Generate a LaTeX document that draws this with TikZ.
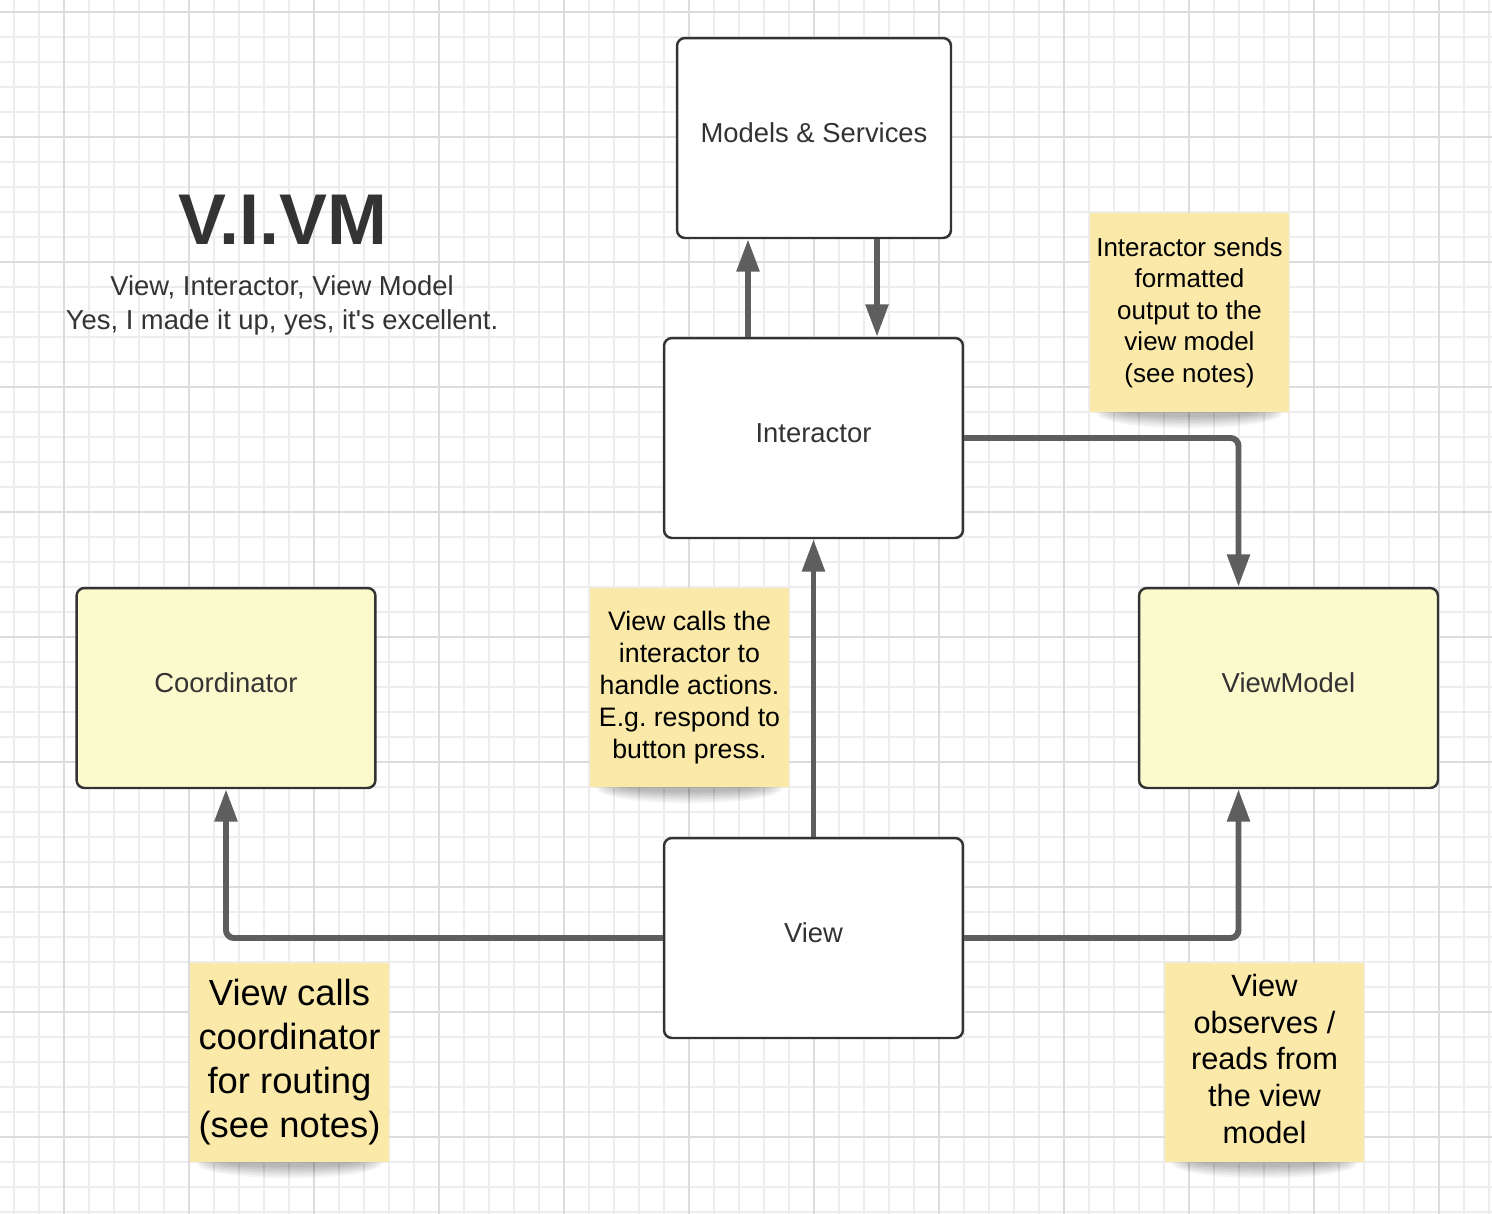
\documentclass[tikz,border=0pt]{standalone}
\usepackage{fontspec}
\setmainfont{Liberation Sans}[Ligatures=TeXOff]
\frenchspacing
\usetikzlibrary{arrows.meta,calc,backgrounds}

\definecolor{gridminor}{HTML}{EDEDED}
\definecolor{gridmajor}{HTML}{DCDCDC}
\definecolor{boxline}{HTML}{333333}
\definecolor{boxtext}{HTML}{333333}
\definecolor{paleyellow}{HTML}{FBFACD}
\definecolor{sticky}{HTML}{FBE9A9}
\definecolor{arrowgray}{HTML}{5E5E5E}

\begin{document}
\begin{tikzpicture}[
  x = 0.02cm, y = -0.02cm,
  minor/.style = {draw = gridminor, line width = 0.6pt},
  major/.style = {draw = gridmajor, line width = 0.6pt},
  block/.style = {draw = boxline, line width = 1.4pt, rounded corners = 4.5pt,
                  fill = white, text = boxtext, minimum width = 5.98cm,
                  minimum height = 4cm, text depth = 0.2cm,
                  font = \fontsize{15.6}{19}\selectfont},
  note/.style = {fill = sticky, text = black, align = center,
                 minimum width = 3.98cm, minimum height = 3.98cm, inner sep = 0pt},
  arr/.style = {draw = arrowgray, line width = 3.4pt, rounded corners = 4.5pt,
                -{Triangle[length = 18.5pt, width = 12.5pt]}},
  ]
  \useasboundingbox (0,0) rectangle (1492,1214);

  % boxes
  \node[block, minimum width = 5.48cm] (ms) at (814,138) {Models \& Services};
  \node[block] (inter) at (813.5,438) {Interactor};
  \node[block, fill = paleyellow] (coord) at (226,688) {Coordinator};
  \node[block, fill = paleyellow] (vm) at (1288.5,688) {ViewModel};
  \node[block] (view) at (813.5,938) {View};

  % sticky notes
  \node[note, font = \fontsize{14.8}{17.9}\selectfont] (n1) at (1189.5,312.5)
    {Interactor sends\\formatted\\output to the\\view model\\(see notes)};
  \node[note, font = \fontsize{15.2}{18.2}\selectfont] (n2) at (689.5,687.5)
    {View calls the\\interactor to\\handle actions.\\E.g. respond to\\button press.};
  \node[note, font = \fontsize{20.7}{25}\selectfont] (n3) at (289.5,1062.5)
    {\raisebox{2pt}{\begin{tabular}{@{}c@{}}View calls\\coordinator\\for routing\\(see notes)\end{tabular}}};
  \node[note, font = \fontsize{17.5}{20.9}\selectfont] (n4) at (1264.5,1062.5)
    {\raisebox{1.5pt}{\begin{tabular}{@{}c@{}}View\\observes /\\reads from\\the view\\model\end{tabular}}};

  % title
  \node[text = boxtext, font = \fontsize{40.9}{42}\selectfont\bfseries] (title) at (283,220) {V.I.VM};
  \node[text = boxtext, align = center, font = \fontsize{15.6}{19.4}\selectfont] (sub) at (282,305)
    {View, Interactor, View Model\\Yes, I made it up, yes, it's excellent.};

  % connectors
  \draw[arr] ($(inter.north)+(-65.5,0)$) -- ($(ms.south)+(-66,0)$);
  \draw[arr] ($(ms.south)+(63,0)$) -- ($(inter.north)+(63.5,0)$);
  \draw[arr] (inter.east) -| ($(vm.north)+(-50,0)$);
  \draw[arr] (view.north) -- (inter.south);
  \draw[arr] (view.west) -| (coord.south);
  \draw[arr] (view.east) -| ($(vm.south)+(-50,0)$);

  % grid and note shadows
  \begin{scope}[on background layer]
    \foreach \x in {14,39,...,1489} \draw[minor] (\x,0) -- (\x,1214);
    \foreach \y in {12,37,...,1212} \draw[minor] (0,\y) -- (1492,\y);
    \foreach \x in {64,189,...,1439} \draw[major] (\x,0) -- (\x,1214);
    \foreach \y in {12,137,...,1137} \draw[major] (0,\y) -- (1492,\y);
    \foreach \n in {n1,n2,n3,n4}
      \foreach \a/\b in {1.85/0.3, 1.8/0.26, 1.74/0.22, 1.68/0.19, 1.6/0.16, 1.5/0.13, 1.4/0.1, 1.25/0.07}
        \fill[black, opacity = 0.04] ($(\n.south)+(0,1)$) ellipse [x radius = \a cm, y radius = \b cm];
  \end{scope}
\end{tikzpicture}
\end{document}
